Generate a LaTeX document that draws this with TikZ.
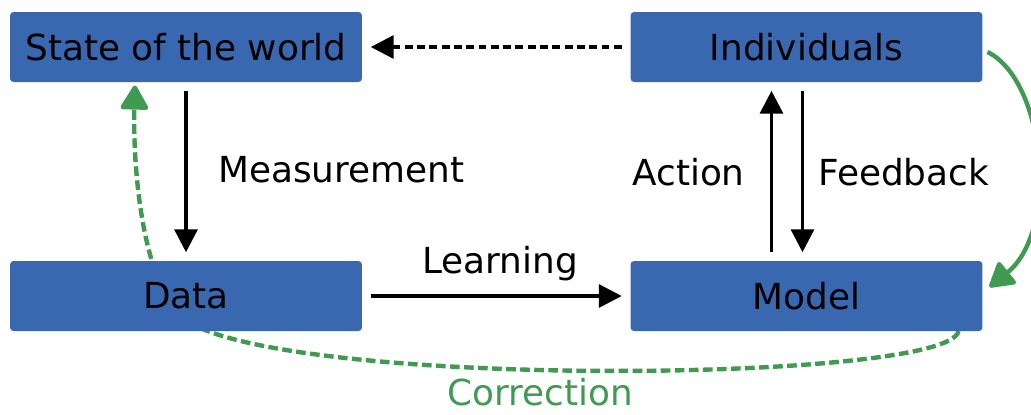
\documentclass[tikz,border=0pt]{standalone}
\usepackage{fontspec}
\setmainfont{DejaVu Sans}
\usetikzlibrary{arrows.meta,backgrounds,calc}
\definecolor{boxblue}{RGB}{58,104,176}
\definecolor{corrgreen}{RGB}{64,154,82}
\tikzstyle{box}=[rectangle,rounded corners=2pt,fill=boxblue,
  minimum width=7.04cm,minimum height=1.4cm,inner sep=0pt,outer sep=0pt]
\tikzstyle{arr}=[-{Triangle[length=13pt,width=13pt]},line width=1.9pt,
  shorten <=5pt,shorten >=5pt]
\tikzstyle{corr}=[-{Triangle[length=15pt,width=17pt,round]},line width=2.5pt,
  draw=corrgreen,fill=corrgreen]
\tikzstyle{lbl}=[inner sep=0pt]

\begin{document}
\begin{tikzpicture}[x=0.02cm,y=-0.02cm,font=\fontsize{20.4}{24}\selectfont]
\useasboundingbox (0,0) rectangle (1031,414);
\node[box] (S) at (186,47) {State of the world};
\node[box] (I) at (806.5,47) {Individuals};
\node[box] (D) at (186,296) {Data};
\node[box] (M) at (806.5,296) {Model};

\draw[arr] (S) -- (D);
\draw[arr] (D) -- (M);
\draw[arr,dash pattern=on 4.5pt off 2.5pt] (I) -- (S);
\draw[arr] ($(M.north)+(-35,0)$) -- ($(I.south)+(-35,0)$);
\draw[arr] ($(I.south)+(-4,0)$) -- ($(M.north)+(-4,0)$);

\node[lbl,anchor=west] (meas) at (218,170) {Measurement};
\node[lbl] (learn) at (500,264) {Learning};
\node[lbl,anchor=east] (act) at (745,172) {Action};
\node[lbl,anchor=west] (feed) at (818,172) {Feedback};

% correction loops, behind the boxes
\draw[corr,fill=none] ($(I.east)+(5,5)$) .. controls (1045,80) and (1060,230)
  .. ($(M.east)+(7,-9)$);
\begin{scope}[on background layer]
\draw[corr,fill=none,dash pattern=on 5.5pt off 2.5pt,shorten >=2pt]
  ($(M.south east)+(-24,0)$) .. controls (950,385) and (225,390)
  .. (175,310) .. controls (140,265) and (133,160) .. ($(S.south)+(-51,0)$);
\end{scope}
\node[lbl,text=corrgreen] (corr) at (540,392) {Correction};
\end{tikzpicture}
\end{document}
